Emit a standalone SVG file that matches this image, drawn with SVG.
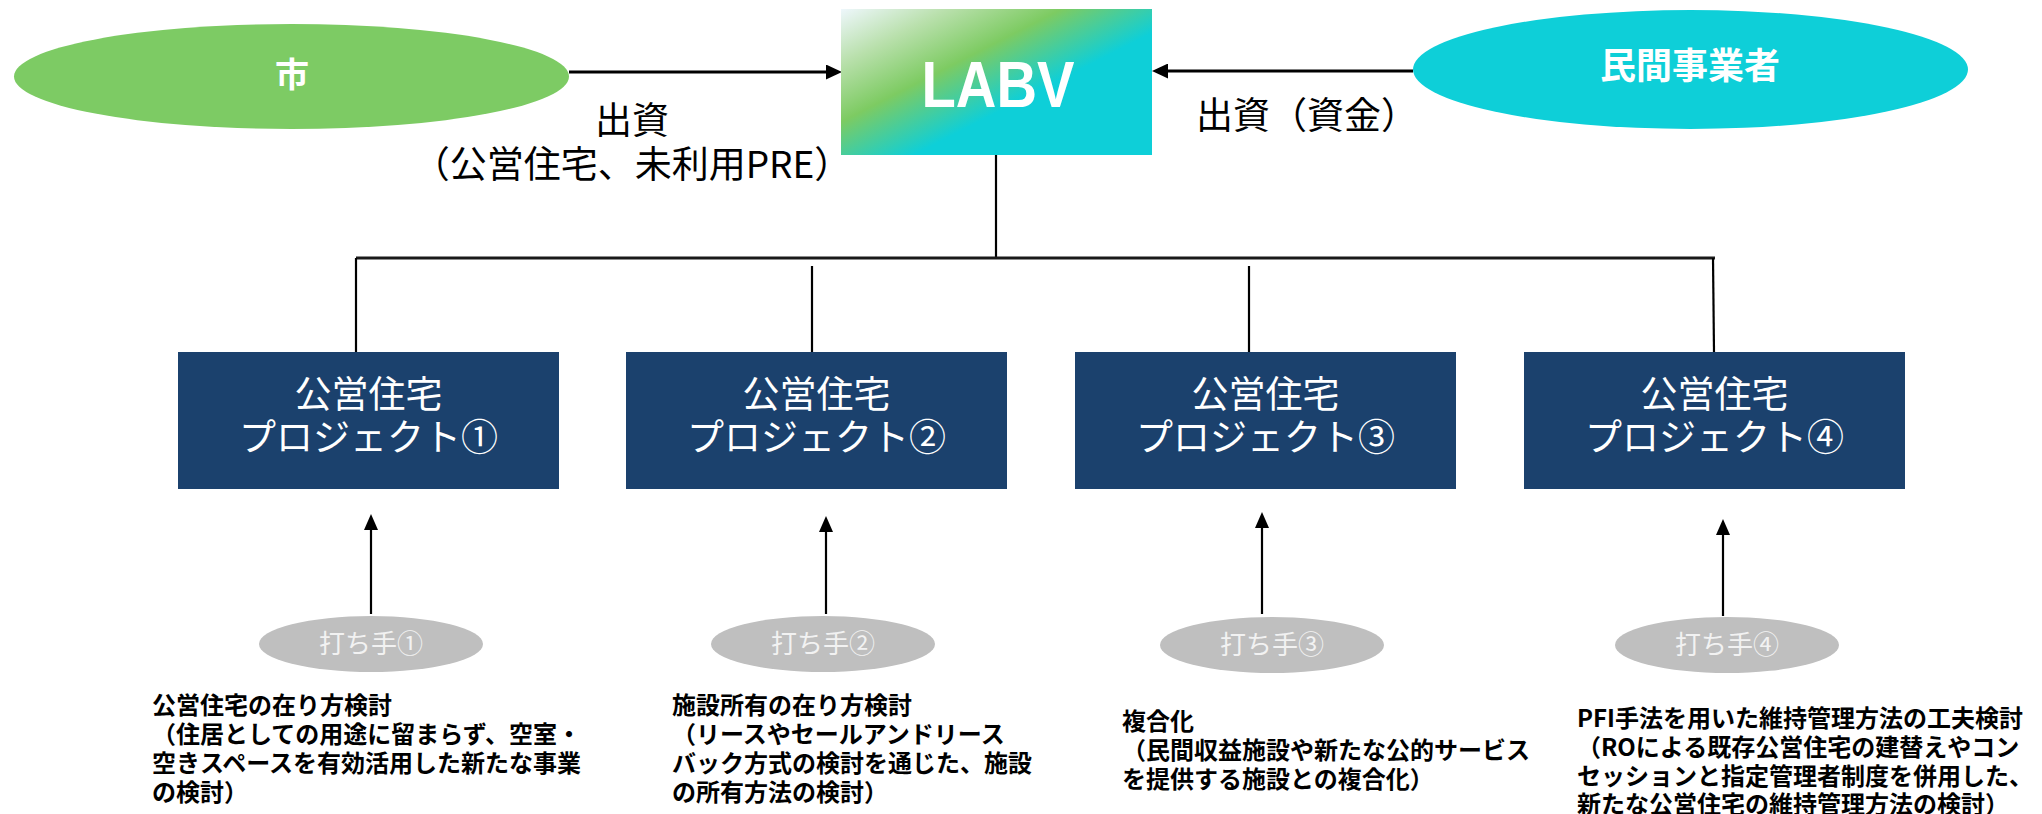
<svg xmlns="http://www.w3.org/2000/svg" width="2042" height="814" viewBox="0 0 2042 814">
<style>
.jp{font-family:"Noto Sans CJK JP","Noto Sans",sans-serif}
.wb{fill:#fff;font-weight:bold}
.lbl{font-size:37px;fill:#000}
.box{fill:#1B416D}
.boxt{font-size:37px;fill:#fff;text-anchor:middle}
.tag{fill:#BFBFBF}
.tagt{font-size:26px;fill:#F2F2F2;text-anchor:middle}
.desc{font-size:24px;font-weight:bold;fill:#000}
.ln{stroke:#000;stroke-width:2.2;fill:none}
.hl{stroke:#1a1a1a;stroke-width:3;fill:none}
.ar{stroke:#000;stroke-width:3;fill:none}
</style>
<defs>
<linearGradient id="g" gradientUnits="userSpaceOnUse" x1="841" y1="9" x2="965" y2="251">
<stop offset="0" stop-color="#EEF7FC"/>
<stop offset="0.18" stop-color="#B9E0AC"/>
<stop offset="0.37" stop-color="#7DCB62"/>
<stop offset="0.6" stop-color="#0ECFD8"/>
<stop offset="1" stop-color="#0ECFD8"/>
</linearGradient>
<marker id="ah" markerUnits="userSpaceOnUse" markerWidth="16" markerHeight="15" viewBox="0 0 16 15" refX="8" refY="7.5" orient="auto">
<path d="M0,0 L16,7.5 L0,15 z" fill="#000"/>
</marker>
<marker id="au" markerUnits="userSpaceOnUse" markerWidth="16" markerHeight="14" viewBox="0 0 16 14" refX="8" refY="7" orient="auto">
<path d="M0,0 L16,7 L0,14 z" fill="#000"/>
</marker>
</defs>
<rect width="2042" height="814" fill="#fff"/>

<g id="connectors">
<line class="ar" x1="569" y1="72" x2="834" y2="72" marker-end="url(#ah)"/>
<line class="ar" x1="1413" y1="71" x2="1160" y2="71" marker-end="url(#ah)"/>
<line class="ln" x1="996" y1="155" x2="996" y2="258"/>
<line class="hl" x1="356" y1="258" x2="1715" y2="258"/>
<line class="ln" x1="356" y1="258" x2="356" y2="352"/>
<line class="ln" x1="812" y1="266" x2="812" y2="358"/>
<line class="ln" x1="1249" y1="266" x2="1249" y2="362"/>
<line class="ln" x1="1713" y1="258" x2="1714" y2="352"/>
<line class="ln" x1="371" y1="614" x2="371" y2="522" marker-end="url(#au)"/>
<line class="ln" x1="826" y1="614" x2="826" y2="524" marker-end="url(#au)"/>
<line class="ln" x1="1262" y1="614" x2="1262" y2="520" marker-end="url(#au)"/>
<line class="ln" x1="1723" y1="616" x2="1723" y2="527" marker-end="url(#au)"/>
</g>

<g id="shi">
<ellipse cx="291.5" cy="76.5" rx="277.5" ry="52.5" fill="#7DCB64"/>
<text class="jp wb" x="292" y="87" font-size="34" text-anchor="middle">市</text>
</g>

<g id="labv">
<rect x="841" y="9" width="311" height="146" fill="url(#g)"/>
<text x="998" y="107" font-family="'Liberation Sans',Arial,sans-serif" font-weight="bold" font-size="65" fill="#fff" text-anchor="middle" textLength="153" lengthAdjust="spacingAndGlyphs">LABV</text>
</g>

<g id="minkan">
<ellipse cx="1690.5" cy="69.5" rx="277.5" ry="59.5" fill="#0ECFD8"/>
<text class="jp wb" x="1690" y="79" font-size="36" text-anchor="middle">民間事業者</text>
</g>

<g id="label-shi">
<text class="jp lbl" text-anchor="middle"><tspan x="632" y="134">出資</tspan><tspan x="632" y="178">（公営住宅、未利用PRE）</tspan></text>
</g>
<g id="label-minkan">
<text class="jp lbl" x="1196" y="129">出資（資金）</text>
</g>

<g id="project1">
<rect class="box" x="178" y="352" width="381" height="137"/>
<text class="jp boxt"><tspan x="368.5" y="408">公営住宅</tspan><tspan x="368.5" y="451">プロジェクト①</tspan></text>
</g>
<g id="project2">
<rect class="box" x="626" y="352" width="381" height="137"/>
<text class="jp boxt"><tspan x="816.5" y="408">公営住宅</tspan><tspan x="816.5" y="451">プロジェクト②</tspan></text>
</g>
<g id="project3">
<rect class="box" x="1075" y="352" width="381" height="137"/>
<text class="jp boxt"><tspan x="1265.5" y="408">公営住宅</tspan><tspan x="1265.5" y="451">プロジェクト③</tspan></text>
</g>
<g id="project4">
<rect class="box" x="1524" y="352" width="381" height="137"/>
<text class="jp boxt"><tspan x="1714.5" y="408">公営住宅</tspan><tspan x="1714.5" y="451">プロジェクト④</tspan></text>
</g>

<g id="measure1">
<ellipse class="tag" cx="371" cy="644" rx="112" ry="28"/>
<text class="jp tagt" x="371" y="653">打ち手①</text>
</g>
<g id="measure2">
<ellipse class="tag" cx="823" cy="644" rx="112" ry="28"/>
<text class="jp tagt" x="823" y="653">打ち手②</text>
</g>
<g id="measure3">
<ellipse class="tag" cx="1272" cy="645" rx="112" ry="28"/>
<text class="jp tagt" x="1272" y="654">打ち手③</text>
</g>
<g id="measure4">
<ellipse class="tag" cx="1727" cy="645" rx="112" ry="28"/>
<text class="jp tagt" x="1727" y="654">打ち手④</text>
</g>

<g id="desc1">
<text class="jp desc"><tspan x="152" y="714">公営住宅の在り方検討</tspan><tspan x="152" y="743">（住居としての用途に留まらず、空室・</tspan><tspan x="152" y="772">空きスペースを有効活用した新たな事業</tspan><tspan x="152" y="801">の検討）</tspan></text>
</g>
<g id="desc2">
<text class="jp desc"><tspan x="672" y="714">施設所有の在り方検討</tspan><tspan x="672" y="743">（リースやセールアンドリース</tspan><tspan x="672" y="772">バック方式の検討を通じた、施設</tspan><tspan x="672" y="801">の所有方法の検討）</tspan></text>
</g>
<g id="desc3">
<text class="jp desc"><tspan x="1122" y="730">複合化</tspan><tspan x="1122" y="759">（民間収益施設や新たな公的サービス</tspan><tspan x="1122" y="788">を提供する施設との複合化）</tspan></text>
</g>
<g id="desc4">
<text class="jp desc"><tspan x="1577" y="727">PFI手法を用いた維持管理方法の工夫検討</tspan><tspan x="1577" y="756">（ROによる既存公営住宅の建替えやコン</tspan><tspan x="1577" y="785">セッションと指定管理者制度を併用した、</tspan><tspan x="1577" y="813">新たな公営住宅の維持管理方法の検討）</tspan></text>
</g>
</svg>
